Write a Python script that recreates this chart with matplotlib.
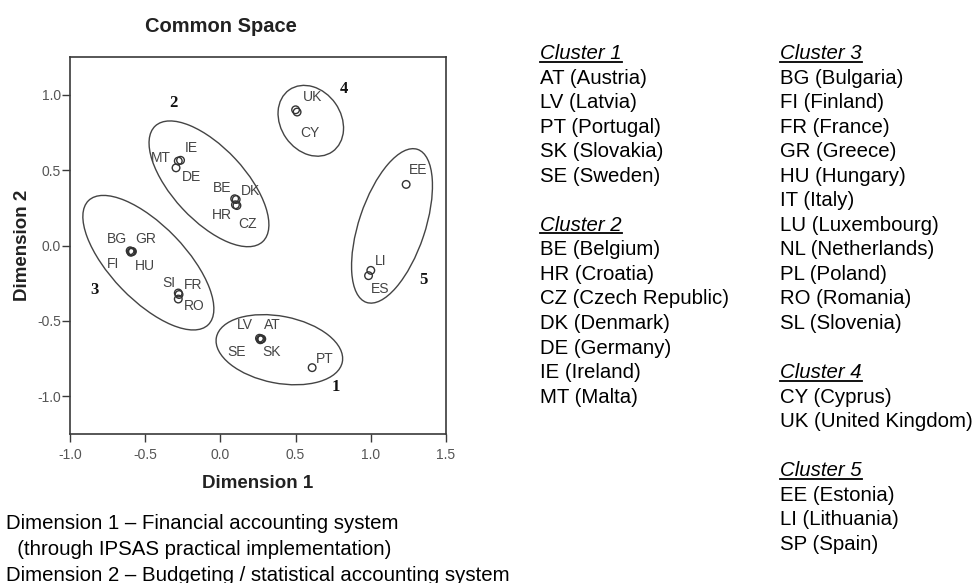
import matplotlib
matplotlib.use("Agg")
import matplotlib.pyplot as plt
from matplotlib.patches import Ellipse
from matplotlib.lines import Line2D

plt.rcParams['font.family'] = ['Liberation Sans', 'DejaVu Sans']
plt.rcParams['axes.unicode_minus'] = False

# ---- data ----
codes = ["UK", "CY", "MT", "IE", "DE", "BE", "DK", "HR", "CZ",
         "BG", "GR", "FI", "HU", "SI", "FR", "RO",
         "LV", "AT", "SE", "SK", "PT", "EE", "LI", "ES"]
dim1 = [0.50, 0.51, -0.28, -0.265, -0.295, 0.095, 0.105, 0.10, 0.11,
        -0.60, -0.59, -0.595, -0.585, -0.28, -0.275, -0.28,
        0.26, 0.27, 0.265, 0.275, 0.61, 1.235, 1.00, 0.985]
dim2 = [0.90, 0.885, 0.56, 0.565, 0.515, 0.31, 0.305, 0.27, 0.265,
        -0.035, -0.04, -0.045, -0.04, -0.315, -0.325, -0.355,
        -0.615, -0.62, -0.625, -0.62, -0.81, 0.405, -0.165, -0.20]
# label offsets in pixels (x right, y up)
lab_dx = [17, 13, -17, 11, 15, -13, 14, -14, 11,
          -13, 14, -18, 13, -9, 14, 16,
          -15, 11, -24, 10, 13, 12, 10, 12]
lab_dy = [13, -21, 3, 12, -9, 11, 9, -10, -18,
          12, 13, -12, -14, 10, 10, -7,
          13, 14, -12, -13, 9, 14, 9, -13]

cluster_ids = ["1", "2", "3", "4", "5"]
cluster_lx = [0.77, -0.313, -0.834, 0.824, 1.349]
cluster_ly = [-0.938, 0.943, -0.292, 1.041, -0.226]
ell_cx = [0.392, -0.076, -0.479, 0.601, 1.141]
ell_cy = [-0.691, 0.409, -0.114, 0.827, 0.130]
ell_w = [0.853, 1.048, 1.145, 0.50, 1.07]
ell_h = [0.444, 0.482, 0.494, 0.40, 0.44]
ell_ang = [-11, -47, -46, -55, 71.5]

xticks = [-1.0, -0.5, 0.0, 0.5, 1.0, 1.5]
yticks = [-1.0, -0.5, 0.0, 0.5, 1.0]

col1 = [("Cluster 1", True), ("AT (Austria)", False), ("LV (Latvia)", False),
        ("PT (Portugal)", False), ("SK (Slovakia)", False), ("SE (Sweden)", False),
        ("", False),
        ("Cluster 2", True), ("BE (Belgium)", False), ("HR (Croatia)", False),
        ("CZ (Czech Republic)", False), ("DK (Denmark)", False),
        ("DE (Germany)", False), ("IE (Ireland)", False), ("MT (Malta)", False)]
col2 = [("Cluster 3", True), ("BG (Bulgaria)", False), ("FI (Finland)", False),
        ("FR (France)", False), ("GR (Greece)", False), ("HU (Hungary)", False),
        ("IT (Italy)", False), ("LU (Luxembourg)", False), ("NL (Netherlands)", False),
        ("PL (Poland)", False), ("RO (Romania)", False), ("SL (Slovenia)", False),
        ("", False),
        ("Cluster 4", True), ("CY (Cyprus)", False), ("UK (United Kingdom)", False),
        ("", False),
        ("Cluster 5", True), ("EE (Estonia)", False), ("LI (Lithuania)", False),
        ("SP (Spain)", False)]
notes = ["Dimension 1 \u2013 Financial accounting system",
         "  (through IPSAS practical implementation)",
         "Dimension 2 \u2013 Budgeting / statistical accounting system"]

# ---- figure ----
W, H = 976, 583
fig = plt.figure(figsize=(W / 100, H / 100), dpi=100)
fig.patch.set_facecolor("white")


def fx(px):
    return px / W


def fy(py):
    return 1 - py / H


ax = fig.add_axes([fx(70), fy(434), fx(376), 377 / H])
ax.set_xlim(-1.0, 1.5)
ax.set_ylim(-1.25, 1.25)

grey = "#3a3a3a"
for s in ["top", "right", "bottom", "left"]:
    ax.spines[s].set_color(grey)
    ax.spines[s].set_linewidth(1.2)

ax.set_xticks(xticks)
ax.set_xticklabels(["%.1f" % v for v in xticks])
ax.set_yticks(yticks)
ax.set_yticklabels(["%.1f" % v for v in yticks])
ax.tick_params(axis="both", direction="out", length=6, width=1, color=grey,
               labelsize=10, labelcolor="#555555")
ax.tick_params(axis="y", pad=0.5)
ax.tick_params(axis="x", pad=4)

ax.scatter(dim1, dim2, s=30, facecolors="none", edgecolors="#333333",
           linewidths=1.0, zorder=3)

for c, x, y, dx, dy in zip(codes, dim1, dim2, lab_dx, lab_dy):
    ax.annotate(c, (x, y), xytext=(dx, dy), textcoords="offset pixels",
                ha="center", va="center", fontsize=10, color="#444444")

for i in range(len(cluster_ids)):
    e = Ellipse((ell_cx[i], ell_cy[i]), ell_w[i], ell_h[i], angle=ell_ang[i],
                fill=False, edgecolor="#444444", linewidth=1.0)
    ax.add_patch(e)
    ax.text(cluster_lx[i], cluster_ly[i], cluster_ids[i], ha="center", va="center",
            fontsize=12, fontweight="bold", family=["Liberation Serif"], color="#111111")

fig.text(fx(221), fy(32), "Common Space", ha="center", va="baseline",
         fontsize=14.5, fontweight="bold", color="#222222")
fig.text(fx(258), fy(483), "Dimension 1", ha="center", va="center",
         fontsize=13.5, fontweight="bold", color="#222222")
fig.text(fx(23), fy(245), "Dimension 2", ha="center", va="center", rotation=90,
         fontsize=13.5, fontweight="bold", color="#222222")

# ---- right-hand list ----
fig.canvas.draw()
renderer = fig.canvas.get_renderer()
step = 24.55
top = 51.7
for colx, col in [(540, col1), (780, col2)]:
    for i, (txt, head) in enumerate(col):
        if not txt:
            continue
        base = top + i * step + 7.3
        t = fig.text(fx(colx), fy(base), txt, ha="left", va="baseline",
                     fontsize=14.7, style="italic" if head else "normal",
                     color="black")
        if head:
            bb = t.get_window_extent(renderer)
            yline = fy(base + 2.5)
            fig.add_artist(Line2D([bb.x0 / W, bb.x1 / W], [yline, yline],
                                  color="black", linewidth=1.3,
                                  transform=fig.transFigure))

note_y = [521.7, 548.0, 573.5]
for txt, py in zip(notes, note_y):
    fig.text(fx(6), fy(py + 7.3), txt, ha="left", va="baseline",
             fontsize=14.7, color="black")

fig.savefig("out.png", dpi=100, facecolor="white")
